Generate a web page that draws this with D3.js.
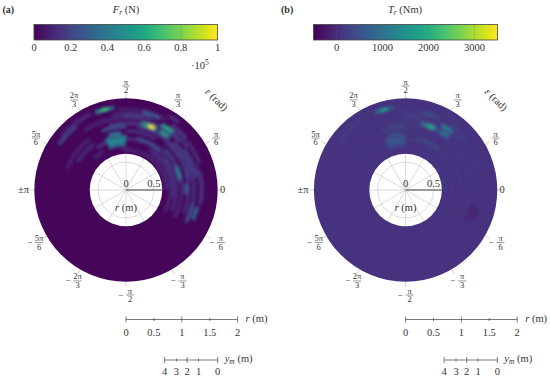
<!DOCTYPE html>
<html>
<head>
<meta charset="utf-8">
<script src="https://cdn.jsdelivr.net/npm/d3@7"></script>
<style>
	html, body { margin: 0; padding: 0; background: #fff; }
	svg { display: block; }
	text { font-family: 'Liberation Serif', serif; fill: #333; }
</style>
</head>
<body>
<script>
//Polar grid and scale bars
const rTicks = [0, 0.5, 1, 1.5, 2]
const rMajor = [0, 1, 2]
const ymTicks = [4, 3, 2, 1, 0]
const ymMajor = [4, 2, 0]
const ymPositions = [0, 0.224, 0.425, 0.64, 1]
const ringInner = 0.65
const ringOuter = 1.643

//Angle ticks (degrees) and their labels
const tickEps = [0, 30, 60, 90, 120, 150, 180, -150, -120, -90, -60, -30]
const tickNum = ['0', 'π', 'π', 'π', '2π', '5π', '±π', '5π', '2π', 'π', 'π', 'π']
const tickDen = ['', '6', '3', '2', '3', '6', '', '6', '3', '2', '3', '6']

//Colour bars
const forceDomain = [0, 1e5]
const forceTicks = [0, 0.2e5, 0.4e5, 0.6e5, 0.8e5, 1e5]
const torqueDomain = [-500, 3500]
const torqueTicks = [0, 1000, 2000, 3000]
const forceBase = 1500
const torqueBase = 70

//Bins of the map that differ from the base value:
//one arc per entry, from angle binFrom to binTo (degrees) at radius binR (m)
const binFrom = [
	-30, -25, -30, -22, -20, -15, 0, 5, 15, 40, 50, 60,
	60, 75, 70, 95, 105, 125, 125, 128, 115, 120, 35, 10,
	15, 20, -10, -8, 30,
	-28, -24, -4, 8, 12, 10, 28, 32, 42, 50, 40, 52, 65, 78, 90,
	90, 90, 90, 92, 95,
	98, 101, 103,
	62, 64, 65, 66,
	50, 52, 50, 52
]
const binTo = [
	55, 30, 50, 45, 30, 20, 95, 60, 80, 100, 110, 95,
	90, 105, 100, 125, 125, 150, 160, 146, 140, 135, 60, 35,
	45, 38, 15, 12, 50,
	-12, -14, 6, 30, 24, 20, 40, 46, 58, 78, 55, 60, 78, 92, 112,
	112, 112, 112, 110, 108,
	112, 110, 107,
	78, 76, 72, 70,
	62, 60, 61, 59
]
const binR = [
	0.8, 0.9, 1.0, 1.12, 1.22, 1.34, 0.72, 0.84, 1.15, 0.92, 1.3, 1.45,
	1.06, 1.2, 1.36, 1.3, 0.92, 1.0, 1.12, 1.45, 1.5, 0.8, 1.34, 1.28,
	1.22, 1.4, 1.36, 0.85, 1.12,
	1.22, 1.31, 1.08, 0.99, 0.99, 1.14, 0.9, 1.0, 1.3, 0.94, 1.42, 1.54, 1.42, 1.34, 1.14,
	0.82, 0.89, 0.96, 0.89, 1.03,
	1.49, 1.49, 1.49,
	1.22, 1.22, 1.22, 1.22,
	1.33, 1.33, 1.22, 1.22
]
const binF = [
	9000, 12000, 10000, 12000, 13000, 8000, 9000, 12000, 14000, 12000, 10000, 8000,
	12000, 14000, 12000, 10000, 13000, 12000, 9000, 22000, 12000, 10000, 13000, 16000,
	16000, 12000, 14000, 12000, 16000,
	24000, 32000, 28000, 20000, 44000, 17000, 17000, 18000, 14000, 22000, 16000, 14000, 26000, 17000, 24000,
	34000, 42000, 38000, 48000, 34000,
	32000, 52000, 70000,
	32000, 54000, 78000, 100000,
	32000, 58000, 30000, 54000
]
const binT = [
	90, 90, 90, 100, 90, 90, 120, 110, 120, 140, 130, 100,
	110, 130, 110, 120, 110, 110, 100, 200, 130, 100, 120, 130,
	120, 110, 100, 100, 120,
	-70, -110, 120, 130, 170, 120, 140, 150, 170, 320, 220, 200, 400, 230, 300,
	380, 500, 460, 620, 380,
	500, 1000, 1700,
	480, 950, 1500, 1900,
	500, 1150, 500, 1050
]

const width = 550, height = 378
const pxPerMetre = 55.8
const cy = 190

const svg = d3.select('body').append('svg').attr('width', width).attr('height', height)
const defs = svg.append('defs')

const blur = defs.append('filter').attr('id', 'blur')
	.attr('x', '-20%').attr('y', '-20%').attr('width', '140%').attr('height', '140%')
blur.append('feGaussianBlur').attr('stdDeviation', 1.4)

const gradient = defs.append('linearGradient').attr('id', 'viridis')
d3.range(0, 1.001, 0.05).forEach(t => {
	gradient.append('stop').attr('offset', t).attr('stop-color', d3.interpolateViridis(t))
})

const rScale = d3.scaleLinear().domain([0, 2]).range([0, 2*pxPerMetre])
const arc = d3.arc()

//Angles are measured counter-clockwise from the right, d3.arc clockwise from the top
function toArc(eps) { return (90-eps)*Math.PI/180 }

function polar(cx, r, eps) {
	let a = eps*Math.PI/180
	return [cx+r*Math.cos(a), cy-r*Math.sin(a)]
}

function label(g, x, y, txt, size = 10.5, anchor = 'middle') {
	return g.append('text')
		.attr('x', x).attr('y', y)
		.attr('text-anchor', anchor)
		.attr('font-size', size)
		.text(txt)
}

//Angle label as a stacked fraction
function fraction(g, x, y, num, den) {
	label(g, x, y-1.5, num, 8.5)
	g.append('line').attr('x1', x-4).attr('x2', x+4).attr('y1', y).attr('y2', y)
		.attr('stroke', '#333').attr('stroke-width', 0.5)
	label(g, x, y+7, den, 8.5)
}

function subscript(g, x, y, base, sub, unit) {
	let t = g.append('text').attr('x', x).attr('y', y).attr('text-anchor', 'middle').attr('font-size', 10.5)
	t.append('tspan').attr('font-style', 'italic').text(base)
	t.append('tspan').attr('font-style', 'italic').attr('font-size', 7.5).attr('dy', 2).text(sub)
	t.append('tspan').attr('dy', -2).text(' ('+unit+')')
}

function colorBar(x0, x1, domain, ticks, format) {
	let x = d3.scaleLinear().domain(domain).range([x0, x1])
	let g = svg.append('g')
	g.append('rect').attr('x', x0).attr('y', 24.5).attr('width', x1-x0).attr('height', 15.5)
		.attr('fill', 'url(#viridis)').attr('stroke', '#444').attr('stroke-width', 0.8)
	g.selectAll('line.t').data(ticks).join('line').attr('class', 't')
		.attr('x1', d => x(d)).attr('x2', d => x(d)).attr('y1', 24.5).attr('y2', 40)
		.attr('stroke', '#666').attr('stroke-opacity', 0.35).attr('stroke-width', 0.6)
	ticks.forEach(d => label(g, x(d), 51, format(d)))
}

function polarPanel(cx, values, base, color) {
	let g = svg.append('g')
	let inner = rScale(ringInner), outer = rScale(ringOuter)

	//Grid inside the hole
	g.append('circle').attr('cx', cx).attr('cy', cy).attr('r', rScale(0.5))
		.attr('fill', 'none').attr('stroke', '#ccc').attr('stroke-width', 0.7)
	tickEps.forEach(eps => {
		let a = polar(cx, 0, eps), b = polar(cx, inner, eps)
		g.append('line').attr('x1', a[0]).attr('y1', a[1]).attr('x2', b[0]).attr('y2', b[1])
			.attr('stroke', '#ccc').attr('stroke-width', 0.7)
		let c = polar(cx, outer, eps), d = polar(cx, outer+5, eps)
		g.append('line').attr('x1', c[0]).attr('y1', c[1]).attr('x2', d[0]).attr('y2', d[1])
			.attr('stroke', '#bbb').attr('stroke-width', 0.7)
	})

	//The ring with its base value
	let ring = arc({innerRadius: inner, outerRadius: outer, startAngle: 0, endAngle: 2*Math.PI})
	g.append('path').attr('d', ring).attr('transform', `translate(${cx},${cy})`)
		.attr('fill', color(base))

	let clipId = 'ring'+Math.round(cx)
	defs.append('clipPath').attr('id', clipId).append('path')
		.attr('d', ring).attr('transform', `translate(${cx},${cy})`)

	//The measured bins, blurred together
	g.append('g').attr('clip-path', `url(#${clipId})`)
		.append('g').attr('filter', 'url(#blur)')
		.selectAll('path').data(values).join('path')
		.attr('transform', `translate(${cx},${cy})`)
		.attr('fill', d => color(d))
		.attr('d', (d, i) => arc({
			innerRadius: rScale(binR[i]-0.035),
			outerRadius: rScale(binR[i]+0.035),
			startAngle: toArc(binTo[i]),
			endAngle: toArc(binFrom[i])
		}))

	//r axis
	let end = polar(cx, inner, 0)
	g.append('line').attr('x1', cx).attr('y1', cy).attr('x2', end[0]).attr('y2', cy)
		.attr('stroke', '#444').attr('stroke-width', 1)
	label(g, cx, cy-3, '0')
	label(g, cx+rScale(0.5), cy-3, '0.5')
	let rt = label(g, cx, cy+20.5, '')
	rt.append('tspan').attr('font-style', 'italic').text('r')
	rt.append('tspan').text(' (m)')

	//Angle labels
	tickEps.forEach((eps, i) => {
		if(tickDen[i] == '') {
			let at = polar(cx, eps == 0 ? 94 : 97, eps)
			label(g, at[0], at[1]+3, tickNum[i], 10.5, eps == 0 ? 'start' : 'end')
		}
		else {
			let at = polar(cx, eps < 0 ? 105 : 104, eps)
			if(eps < 0) {
				label(g, at[0]-5.5, at[1]+2.5, '−', 9)
				fraction(g, at[0]+4, at[1], tickNum[i], tickDen[i])
			}
			else
				fraction(g, at[0], at[1], tickNum[i], tickDen[i])
		}
	})

	//Angle axis title
	let t = g.append('text').attr('transform', `translate(${cx+88},${cy-88}) rotate(45)`)
		.attr('text-anchor', 'middle').attr('font-size', 10.5)
	t.append('tspan').attr('font-style', 'italic').text('ε')
	t.append('tspan').text(' (rad)')

	//Scale bars below the map
	scaleBars(g, cx)
}

function scaleBars(g, cx) {
	let x = d3.scaleLinear().domain([0, 2]).range([cx, cx+2*pxPerMetre])
	let y = 319.5
	g.append('line').attr('x1', x(0)).attr('x2', x(2)).attr('y1', y).attr('y2', y).attr('stroke', '#444').attr('stroke-width', 0.7)
	rTicks.forEach(d => {
		let h = rMajor.includes(d) ? 3 : 1.5
		g.append('line').attr('x1', x(d)).attr('x2', x(d)).attr('y1', y-h).attr('y2', y+h).attr('stroke', '#444').attr('stroke-width', 0.7)
		label(g, x(d), 336, d)
	})
	let rt = label(g, x(2)+8, 322, '', 10.5, 'start')
	rt.append('tspan').attr('font-style', 'italic').text('r')
	rt.append('tspan').text(' (m)')

	let ym = d3.scaleLinear().domain([0, 1]).range([cx+38.5, cx+91.7])
	let yb = 360
	g.append('line').attr('x1', ym(0)).attr('x2', ym(1)).attr('y1', yb).attr('y2', yb).attr('stroke', '#444').attr('stroke-width', 0.7)
	ymTicks.forEach((d, i) => {
		let px = ym(ymPositions[i])
		let h = ymMajor.includes(d) ? 3 : 1.5
		g.append('line').attr('x1', px).attr('x2', px).attr('y1', yb-h).attr('y2', yb+h).attr('stroke', '#444').attr('stroke-width', 0.7)
		label(g, px, 375, d)
	})
	let yt = label(g, ym(1)+7, 362, '', 10.5, 'start')
	yt.append('tspan').attr('font-style', 'italic').text('y')
	yt.append('tspan').attr('font-style', 'italic').attr('font-size', 7.5).attr('dy', 2).text('m')
	yt.append('tspan').attr('dy', -2).text(' (m)')
}

const forceColor = d3.scaleSequential(d3.interpolateViridis).domain(forceDomain)
const torqueColor = d3.scaleSequential(d3.interpolateViridis).domain(torqueDomain)

//Panel a
label(svg, 2.5, 12.5, '(a)', 10, 'start').attr('font-weight', 'bold')
subscript(svg, 126, 13, 'F', 'r', 'N')
colorBar(34, 217.5, forceDomain, forceTicks, d => d3.format('~g')(d/1e5))
let power = label(svg, 191, 69, '·10', 10.5, 'start')
power.append('tspan').attr('font-size', 7.5).attr('dy', -4).text('5')
polarPanel(126, binF, forceBase, forceColor)

//Panel b
label(svg, 281, 12.5, '(b)', 10, 'start').attr('font-weight', 'bold')
subscript(svg, 405, 13, 'T', 'r', 'Nm')
colorBar(313.5, 497.5, torqueDomain, torqueTicks, d => d)
polarPanel(405.6, binT, torqueBase, torqueColor)
</script>
</body>
</html>
